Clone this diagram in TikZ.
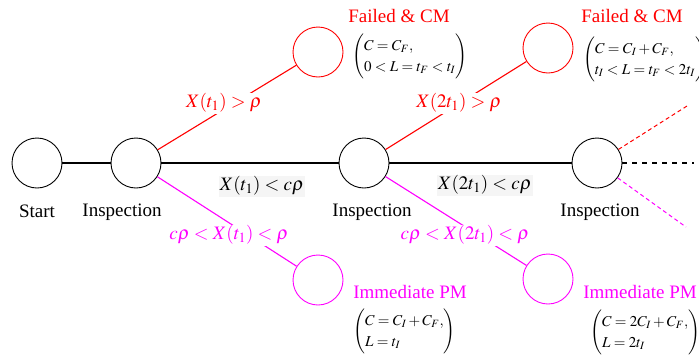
\documentclass[tikz,border=0pt]{standalone}
\usepackage{mathptmx}
\usepackage[no-math]{fontspec}
\setmainfont{Liberation Serif}
\usepackage{amsmath}
\definecolor{pm}{RGB}{255,0,255}
\newcommand{\outcome}[2]{$\left(\vrule height 27pt depth 20pt width 0pt\renewcommand{\arraystretch}{1.15}\begin{array}{@{}l@{}} #1\\ #2\end{array}\right)$}
\tikzset{
  st/.style={circle, draw, line width=0.9pt, minimum size=50pt, inner sep=0pt},
  conn/.style={line width=1.1pt},
  cond/.style={fill=white, inner sep=1pt},
  condb/.style={fill=black!4, inner sep=1pt},
  lbl/.style={inner sep=0pt},
  mat/.style={inner sep=0pt, font=\fontsize{15}{18}\selectfont},
}
\begin{document}
\begin{tikzpicture}[x=1pt,y=-1pt, font=\fontsize{19}{22}\selectfont]
\useasboundingbox (0,0) rectangle (699,357);
% state circles
\node[st] (s) at (37,163) {};
\node[st] (i1) at (136,163) {};
\node[st] (i2) at (364,163) {};
\node[st] (i3) at (597,163) {};
\node[st, draw=red] (f1) at (318,52) {};
\node[st, draw=red] (f2) at (548,48) {};
\node[st, draw=pm] (p1) at (318,280) {};
\node[st, draw=pm] (p2) at (548,279) {};
% free ends
\coordinate (e1) at (694,163);
\coordinate (e2) at (687,106);
\coordinate (e3) at (686,227);
% connectors
\draw[conn] (s) -- (i1);
\draw[conn] (i1) -- (i2);
\draw[conn] (i2) -- (i3);
\draw[conn, red] (i1) -- (f1);
\draw[conn, red] (i2) -- (f2);
\draw[conn, pm] (i1) -- (p1);
\draw[conn, pm] (i2) -- (p2);
\draw[line width=2.8pt, dash pattern=on 5pt off 5pt] (i3) -- (e1);
\draw[red, line width=1pt, dash pattern=on 4pt off 3pt] (i3) -- (e2);
\draw[pm, line width=1pt, dash pattern=on 4pt off 3pt] (i3) -- (e3);
% condition labels
\node[cond, text=red] (c1) at (224,103) {$X(t_{1}) > \rho$};
\node[cond, text=red] (c2) at (459,103) {$X(2t_{1}) > \rho$};
\node[cond, text=pm] (c3) at (229,235) {$c\rho < X(t_{1}) < \rho$};
\node[cond, text=pm] (c4) at (465,235) {$c\rho < X(2t_{1}) < \rho$};
\node[condb] (c5) at (262,186) {$X(t_{1}) < c\rho$};
\node[condb] (c6) at (485,185) {$X(2t_{1}) < c\rho$};
% state labels
\node[lbl] (ls) at (37,211) {Start};
\node[lbl] (l1) at (122,212) {Inspection};
\node[lbl] (l2) at (372,212) {Inspection};
\node[lbl] (l3) at (600,212) {Inspection};
% outcomes
\node[lbl, text=red] (t1) at (399,16) {Failed \& CM};
\node[lbl, text=red] (t2) at (632,16) {Failed \& CM};
\node[lbl, text=pm] (t3) at (410,292) {Immediate PM};
\node[lbl, text=pm] (t4) at (640,292) {Immediate PM};
\node[mat, anchor=west] (m1) at (352,57) {\outcome{C=C_F,}{0<L=t_F<t_I}};
\node[mat, anchor=west] (m2) at (583,60) {\outcome{C=C_I+C_F,}{t_I<L=t_F<2t_I}};
\node[mat, anchor=west] (m3) at (353,332) {\outcome{C=C_I+C_F,}{L=t_I}};
\node[mat, anchor=west] (m4) at (590,333) {\outcome{C=2C_I+C_F,}{L=2t_I}};
\end{tikzpicture}
\end{document}
